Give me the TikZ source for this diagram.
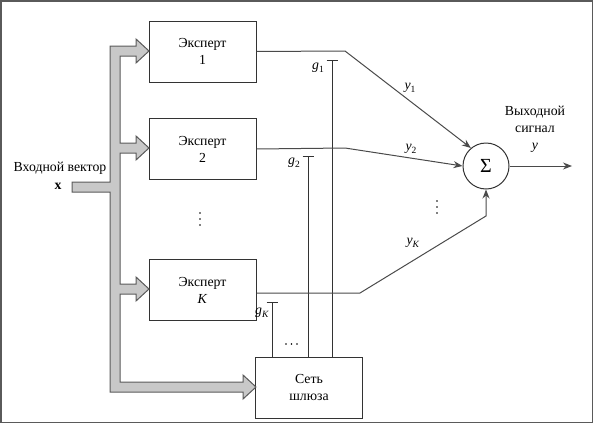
\documentclass[tikz,border=0pt]{standalone}
\usepackage{fontspec}
\setmainfont{Liberation Serif}
\usetikzlibrary{arrows.meta,calc}
\definecolor{inkdark}{HTML}{333333}
\definecolor{inkline}{HTML}{4A4A4A}
\definecolor{busfill}{HTML}{C8C8C8}
\definecolor{busedge}{HTML}{5A5A5A}
\newcommand{\lowsub}[1]{\raisebox{-0.45ex}{\fontsize{9.5}{9.5}\selectfont #1}}
\begin{document}
\begin{tikzpicture}[x=1pt,y=-1pt,
  every node/.style={font=\fontsize{13.8}{17}\selectfont, text=black},
  block/.style={draw=inkdark, line width=1pt, rectangle, minimum width=107pt,
                minimum height=61pt, inner sep=0pt, align=center},
  adder/.style={draw=inkdark, line width=1pt, circle, minimum size=46pt, inner sep=0pt},
  signal/.style={draw=inkline, line width=1pt, -{Stealth[length=9pt,width=7pt]}},
  gateline/.style={draw=inkdark, line width=0.9pt, -{Bar[width=11pt,line width=0.9pt]}},
  bus/.style={fill=busfill, draw=busedge, line width=1pt, line join=miter},
  dot/.style={fill=black, circle, inner sep=0pt, minimum size=1.9pt},
  lbl/.style={inner sep=0pt}]
\useasboundingbox (0,0) rectangle (593,423);
\draw[draw=busedge, line width=1.5pt] (0.75,0.75) rectangle (592.25,422.25);

% blocks
\node[block] (e1) at (202.5,51.5) {Эксперт\\1};
\node[block] (e2) at (202.5,149) {Эксперт\\2};
\node[block] (eK) at (202.5,290) {Эксперт\\\textit{K}};
\node[block] (gate) at (309,387.5) {Сеть\\шлюза};
\node[adder] (sum) at (486,166) {\fontsize{20}{20}\selectfont Σ};

% input bus feeding the experts and the gating network
\draw[bus] (72,182) -- (110,182) -- (110,46) -- (136,46) -- (136,39) -- (149,51)
  -- (136,63) -- (136,56) -- (120,56) -- (120,143) -- (136,143) -- (136,136)
  -- (149,148) -- (136,160) -- (136,153) -- (120,153) -- (120,284) -- (136,284)
  -- (136,277) -- (149,289) -- (136,301) -- (136,294) -- (120,294) -- (120,382)
  -- (243,382) -- (243,375) -- (256,387) -- (243,399) -- (243,392) -- (110,392)
  -- (110,192) -- (72,192) -- cycle;
\node[lbl] (inlabel) at (60,168) {Входной вектор};
\node[lbl] (invec) at (58,186) {\textbf{x}};

% gating outputs
\coordinate (t1) at (332,60);
\coordinate (t2) at (308,156);
\coordinate (tK) at (272,302);
\draw[gateline] (t1 |- gate.north) -- (t1);
\draw[gateline] (t2 |- gate.north) -- (t2);
\draw[gateline] (tK |- gate.north) -- (tK);
\node[lbl] (g1) at (318,68) {\textit{g}\lowsub{1}};
\node[lbl] (g2) at (294,163) {\textit{g}\lowsub{2}};
\node[lbl] (gK) at (262,313) {\textit{g}\lowsub{\textit{K}}};
\foreach \x in {286,291.5,297} \node[dot] at (\x,344) {};

% expert outputs into the adder
\coordinate (b1) at (345,51);
\coordinate (b2) at (345,148);
\coordinate (bK) at (360,293);
\coordinate (cK) at (486,216);
\draw[signal] (e1.east) -- (b1) -- (sum.130);
\draw[signal] (e2.east) -- (b2) -- (sum.west);
\draw[signal] ([yshift=-3pt]eK.east) -- (bK) -- (cK) -- (sum.south);
\node[lbl] (y1) at (410,88) {\textit{y}\lowsub{1}};
\node[lbl] (y2) at (411,149) {\textit{y}\lowsub{2}};
\node[lbl] (yK) at (413,243) {\textit{y}\lowsub{\textit{K}}};
\foreach \y in {213,219,225} \node[dot] at (200,\y) {};
\foreach \y in {201,207,213} \node[dot] at (437,\y) {};

% output
\coordinate (out) at (572,166);
\draw[signal] (sum.east) -- (out);
\node[lbl, align=center] (outlabel) at (535,129) {Выходной\\сигнал\\\textit{y}};
\end{tikzpicture}
\end{document}
